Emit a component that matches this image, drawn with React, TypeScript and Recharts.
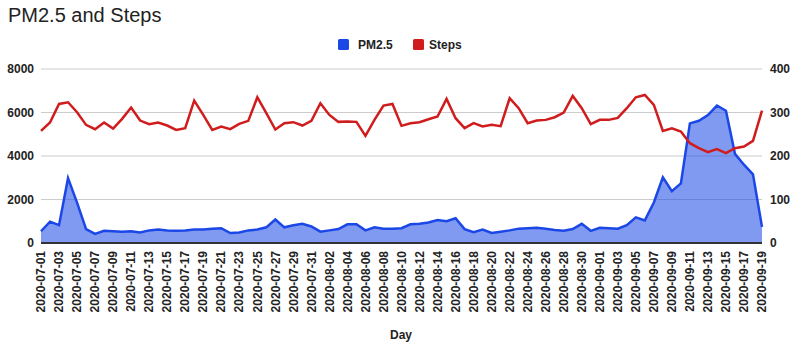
import { ComposedChart, Area, Line, XAxis, YAxis, CartesianGrid } from 'recharts'

const days = [
  '2020-07-01', '2020-07-02', '2020-07-03', '2020-07-04', '2020-07-05', '2020-07-06', '2020-07-07', '2020-07-08',
  '2020-07-09', '2020-07-10', '2020-07-11', '2020-07-12', '2020-07-13', '2020-07-14', '2020-07-15', '2020-07-16',
  '2020-07-17', '2020-07-18', '2020-07-19', '2020-07-20', '2020-07-21', '2020-07-22', '2020-07-23', '2020-07-24',
  '2020-07-25', '2020-07-26', '2020-07-27', '2020-07-28', '2020-07-29', '2020-07-30', '2020-07-31', '2020-08-01',
  '2020-08-02', '2020-08-03', '2020-08-04', '2020-08-05', '2020-08-06', '2020-08-07', '2020-08-08', '2020-08-09',
  '2020-08-10', '2020-08-11', '2020-08-12', '2020-08-13', '2020-08-14', '2020-08-15', '2020-08-16', '2020-08-17',
  '2020-08-18', '2020-08-19', '2020-08-20', '2020-08-21', '2020-08-22', '2020-08-23', '2020-08-24', '2020-08-25',
  '2020-08-26', '2020-08-27', '2020-08-28', '2020-08-29', '2020-08-30', '2020-08-31', '2020-09-01', '2020-09-02',
  '2020-09-03', '2020-09-04', '2020-09-05', '2020-09-06', '2020-09-07', '2020-09-08', '2020-09-09', '2020-09-10',
  '2020-09-11', '2020-09-12', '2020-09-13', '2020-09-14', '2020-09-15', '2020-09-16', '2020-09-17', '2020-09-18',
  '2020-09-19',
]

const pm25 = [
  27, 49, 41, 149, 93, 32, 21, 28, 27, 26, 27, 24, 29, 31, 29, 28,
  29, 31, 31, 33, 34, 23, 24, 29, 31, 36, 54, 36, 41, 44, 38, 26,
  29, 32, 43, 43, 29, 36, 33, 33, 34, 43, 44, 47, 53, 50, 57, 32,
  25, 31, 23, 26, 29, 33, 34, 35, 33, 30, 28, 32, 44, 28, 35, 34,
  33, 41, 59, 52, 93, 151, 119, 137, 275, 281, 294, 316, 304, 205, 180, 158,
  37,
]

const steps = [
  5156, 5539, 6395, 6472, 6013, 5431, 5233, 5539, 5263, 5707, 6227, 5630, 5462, 5539, 5401, 5202,
  5278, 6548, 5890, 5202, 5355, 5233, 5477, 5615, 6701, 5967, 5217, 5508, 5554, 5401, 5615, 6426,
  5890, 5569, 5585, 5569, 4927, 5661, 6319, 6395, 5386, 5508, 5554, 5692, 5814, 6625, 5738, 5278,
  5508, 5355, 5431, 5370, 6655, 6197, 5508, 5630, 5661, 5783, 5998, 6763, 6197, 5462, 5661, 5661,
  5753, 6197, 6701, 6808, 6350, 5156, 5278, 5125, 4590, 4361, 4177, 4315, 4131, 4361, 4437, 4697,
  6089,
]

const leftTicks = [0, 2000, 4000, 6000, 8000]
const rightTicks = [0, 100, 200, 300, 400]

const data = days.map((day, i) => ({ day, pm25: pm25[i], steps: steps[i] }))

const FONT = '"Liberation Sans", Arial, sans-serif'
const BLUE = '#1a47e6'
const RED = '#d01c1c'

function DayTick(props: any) {
  const { x, y, payload } = props
  return (
    <g transform={`translate(${x},${y}) rotate(-90)`}>
      <text x={0} y={0} dy="0.35em" textAnchor="end" fontFamily={FONT} fontSize={12} fontWeight="bold" fill="#222">
        {payload.value}
      </text>
    </g>
  )
}

export default function App() {
  return (
    <div style={{ position: 'absolute', left: 0, top: 0, width: 800, height: 352, background: '#fff' }}>
      <ComposedChart width={800} height={352} data={data} margin={{ top: 69, right: 0, bottom: 0, left: 0 }}>
        <CartesianGrid yAxisId="left" vertical={false} stroke="#cccccc" strokeWidth={1.2} />
        <XAxis
          dataKey="day"
          scale="point"
          padding={{ left: 0, right: 0 }}
          interval={1}
          height={109}
          tickLine={false}
          tickSize={6}
          tickMargin={2}
          axisLine={{ stroke: '#333', strokeWidth: 2 }}
          tick={<DayTick />}
        />
        <YAxis
          yAxisId="left"
          orientation="left"
          width={41}
          domain={[0, 8000]}
          ticks={leftTicks}
          tickLine={false}
          axisLine={false}
          tickSize={0}
          tickMargin={7}
          tick={{ fontFamily: FONT, fontSize: 12, fontWeight: 'bold', fill: '#222' }}
        />
        <YAxis
          yAxisId="right"
          orientation="right"
          width={38}
          domain={[0, 400]}
          ticks={rightTicks}
          tickLine={false}
          axisLine={false}
          tickSize={0}
          tickMargin={8}
          tick={{ fontFamily: FONT, fontSize: 12, fontWeight: 'bold', fill: '#222' }}
        />
        <Area
          yAxisId="right"
          type="linear"
          dataKey="pm25"
          name="PM2.5"
          stroke={BLUE}
          strokeWidth={2.5}
          fill={BLUE}
          fillOpacity={0.55}
          dot={false}
          activeDot={false}
          isAnimationActive={false}
        />
        <Line
          yAxisId="left"
          type="linear"
          dataKey="steps"
          name="Steps"
          stroke={RED}
          strokeWidth={2.5}
          dot={false}
          activeDot={false}
          isAnimationActive={false}
        />
      </ComposedChart>
      <svg width={800} height={352} style={{ position: 'absolute', left: 0, top: 0, pointerEvents: 'none' }}>
        <text x={8} y={22} fontFamily={FONT} fontSize={20} fill="#222">PM2.5 and Steps</text>
        <rect x={338} y={39} width={11} height={11} rx={1.5} fill={BLUE} />
        <text x={358} y={49} fontFamily={FONT} fontSize={12} fontWeight="bold" fill="#222">PM2.5</text>
        <rect x={413} y={39} width={11} height={11} rx={1.5} fill={RED} />
        <text x={429} y={49} fontFamily={FONT} fontSize={12} fontWeight="bold" fill="#222">Steps</text>
        <text x={401} y={339} textAnchor="middle" fontFamily={FONT} fontSize={12} fontWeight="bold" fill="#222">Day</text>
      </svg>
    </div>
  )
}
